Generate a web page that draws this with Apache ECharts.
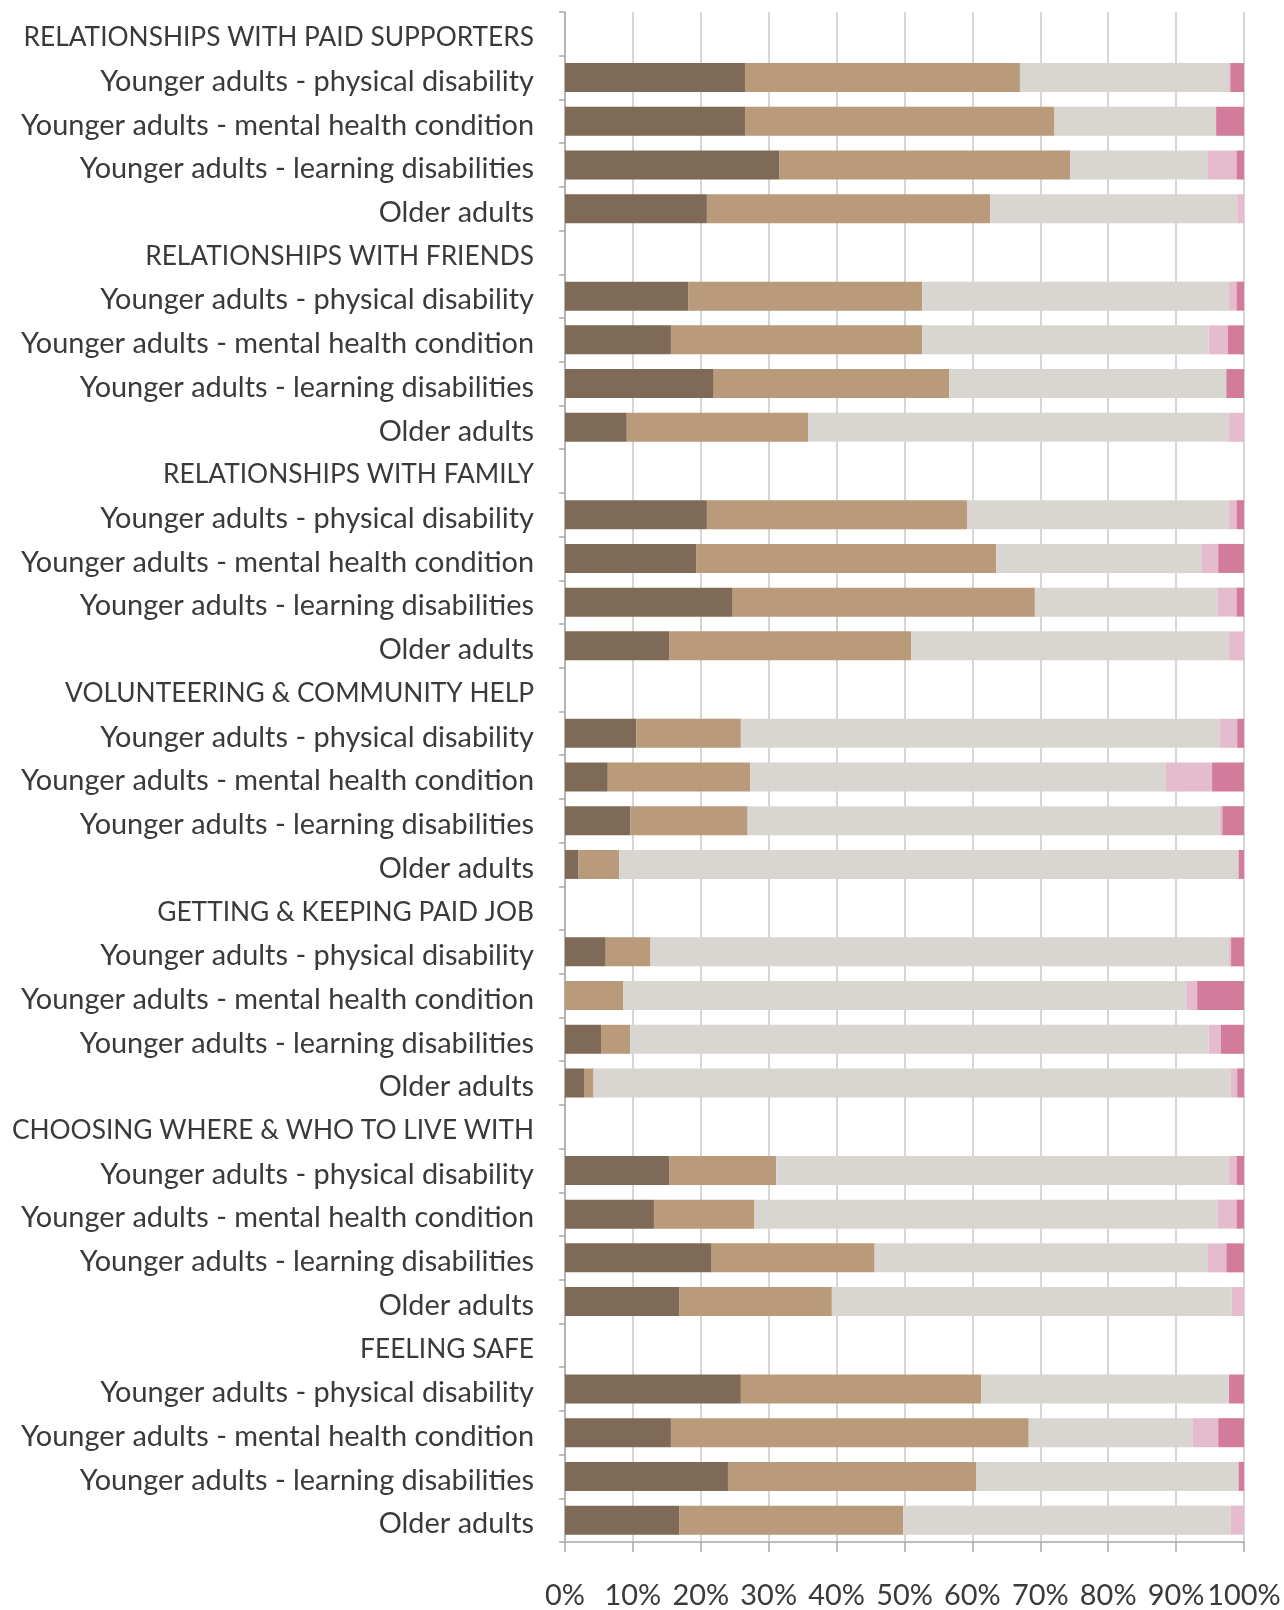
<!DOCTYPE html>
<html>
<head>
<meta charset="utf-8">
<script src="https://cdn.jsdelivr.net/npm/echarts@6/dist/echarts.min.js"></script>
<style>
  html, body { margin: 0; padding: 0; background: #ffffff; }
  #chart { width: 1284px; height: 1610px; }
</style>
</head>
<body>
<div id="chart"></div>
<script>
// Category labels (section headers have no data)
const categories = [
  'RELATIONSHIPS WITH PAID SUPPORTERS',
  'Younger adults - physical disability',
  'Younger adults - mental health condition',
  'Younger adults - learning disabilities',
  'Older adults',
  'RELATIONSHIPS WITH FRIENDS',
  'Younger adults - physical disability',
  'Younger adults - mental health condition',
  'Younger adults - learning disabilities',
  'Older adults',
  'RELATIONSHIPS WITH FAMILY',
  'Younger adults - physical disability',
  'Younger adults - mental health condition',
  'Younger adults - learning disabilities',
  'Older adults',
  'VOLUNTEERING & COMMUNITY HELP',
  'Younger adults - physical disability',
  'Younger adults - mental health condition',
  'Younger adults - learning disabilities',
  'Older adults',
  'GETTING & KEEPING PAID JOB',
  'Younger adults - physical disability',
  'Younger adults - mental health condition',
  'Younger adults - learning disabilities',
  'Older adults',
  'CHOOSING WHERE & WHO TO LIVE WITH',
  'Younger adults - physical disability',
  'Younger adults - mental health condition',
  'Younger adults - learning disabilities',
  'Older adults',
  'FEELING SAFE',
  'Younger adults - physical disability',
  'Younger adults - mental health condition',
  'Younger adults - learning disabilities',
  'Older adults'
];

const tickLabels = ['0%', '10%', '20%', '30%', '40%', '50%', '60%', '70%', '80%', '90%', '100%'];

// Series values (percent), null for section header rows
const seriesDark = [
  null, 26.6, 26.6, 31.6, 20.9,
  null, 18.2, 15.6, 21.9, 9.1,
  null, 20.9, 19.3, 24.7, 15.4,
  null, 10.5, 6.3, 9.6, 2.0,
  null, 6.0, 0, 5.3, 2.8,
  null, 15.4, 13.1, 21.5, 16.8,
  null, 25.9, 15.6, 24.0, 16.8
];
const seriesTan = [
  null, 40.4, 45.5, 42.8, 41.7,
  null, 34.4, 37.0, 34.7, 26.7,
  null, 38.3, 44.2, 44.5, 35.6,
  null, 15.4, 21.0, 17.3, 6.0,
  null, 6.6, 8.6, 4.3, 1.4,
  null, 15.7, 14.8, 24.1, 22.5,
  null, 35.4, 52.7, 36.6, 33.0
];
const seriesGrey = [
  null, 30.8, 23.8, 20.3, 36.4,
  null, 45.2, 42.2, 40.8, 62.0,
  null, 38.6, 30.3, 26.9, 46.8,
  null, 70.5, 61.2, 69.5, 91.2,
  null, 85.2, 82.9, 85.2, 93.8,
  null, 66.7, 68.2, 49.1, 58.9,
  null, 36.5, 24.1, 38.6, 48.2
];
const seriesLightPink = [
  null, 0.2, 0, 4.2, 1.0,
  null, 1.1, 2.8, 0, 2.2,
  null, 1.1, 2.4, 2.8, 2.2,
  null, 2.6, 6.8, 0.4, 0,
  null, 0.3, 1.6, 1.8, 1.0,
  null, 1.1, 2.8, 2.7, 1.8,
  null, 0, 3.8, 0, 2.0
];
const seriesPink = [
  null, 2.0, 4.1, 1.1, 0,
  null, 1.1, 2.4, 2.6, 0,
  null, 1.1, 3.8, 1.1, 0,
  null, 1.0, 4.7, 3.2, 0.8,
  null, 1.9, 6.9, 3.4, 1.0,
  null, 1.1, 1.1, 2.6, 0,
  null, 2.2, 3.8, 0.8, 0
];

const FONT = 'Lato';
// fit label font size so a label matches the reference width
function fitFont(text, targetWidth) {
  const c = document.createElement('canvas').getContext('2d');
  c.font = '100px ' + FONT;
  const w = c.measureText(text).width;
  return Math.round(100 * targetWidth / w * 10) / 10;
}
const labelSize = fitFont('Younger adults - mental health condition', 513);
const headerSize = Math.round((fitFont('RELATIONSHIPS WITH PAID SUPPORTERS', 511) +
                               fitFont('CHOOSING WHERE & WHO TO LIVE WITH', 523)) / 2 * 10) / 10;

const colors = ['#7f6a57', '#b99a7b', '#d9d6d1', '#e5bccd', '#d27b9b'];
const seriesData = [seriesDark, seriesTan, seriesGrey, seriesLightPink, seriesPink];
const seriesNames = ['Series 1', 'Series 2', 'Series 3', 'Series 4', 'Series 5'];

const chart = echarts.init(document.getElementById('chart'), null, { renderer: 'canvas' });
chart.setOption({
  backgroundColor: '#ffffff',
  animation: false,
  grid: { left: 565, right: 40, top: 12, bottom: 68, containLabel: false, outerBoundsMode: 'none' },
  xAxis: {
    type: 'value',
    min: 0,
    max: 100,
    interval: 10,
    axisLine: { show: true, lineStyle: { color: '#a9a9a9', width: 1.5 } },
    axisTick: { show: true, length: 10, lineStyle: { color: '#a9a9a9', width: 1.5 } },
    splitLine: { show: true, lineStyle: { color: '#c9c9c9', width: 1.5 } },
    axisLabel: {
      margin: 39,
      color: '#3a3a3a',
      fontFamily: FONT,
      fontSize: labelSize,
      formatter: function (v) { return tickLabels[Math.round(v / 10)]; }
    }
  },
  yAxis: {
    type: 'category',
    inverse: true,
    data: categories,
    axisLine: { show: true, lineStyle: { color: '#a9a9a9', width: 1.5 } },
    axisTick: { show: true, length: 6, lineStyle: { color: '#a9a9a9', width: 1.5 } },
    splitLine: { show: false },
    axisLabel: {
      margin: 31,
      padding: [8, 0, 0, 0],
      color: '#3a3a3a',
      fontFamily: FONT,
      fontSize: labelSize,
      formatter: function (v) {
        return v === v.toUpperCase() ? '{h|' + v + '}' : v;
      },
      rich: {
        h: { fontFamily: FONT, fontSize: headerSize, color: '#3a3a3a' }
      }
    }
  },
  series: seriesData.map(function (d, i) {
    return {
      name: seriesNames[i],
      type: 'bar',
      stack: 'total',
      barWidth: 29,
      data: d,
      itemStyle: { color: colors[i] },
      emphasis: { disabled: true }
    };
  })
});
</script>
</body>
</html>
